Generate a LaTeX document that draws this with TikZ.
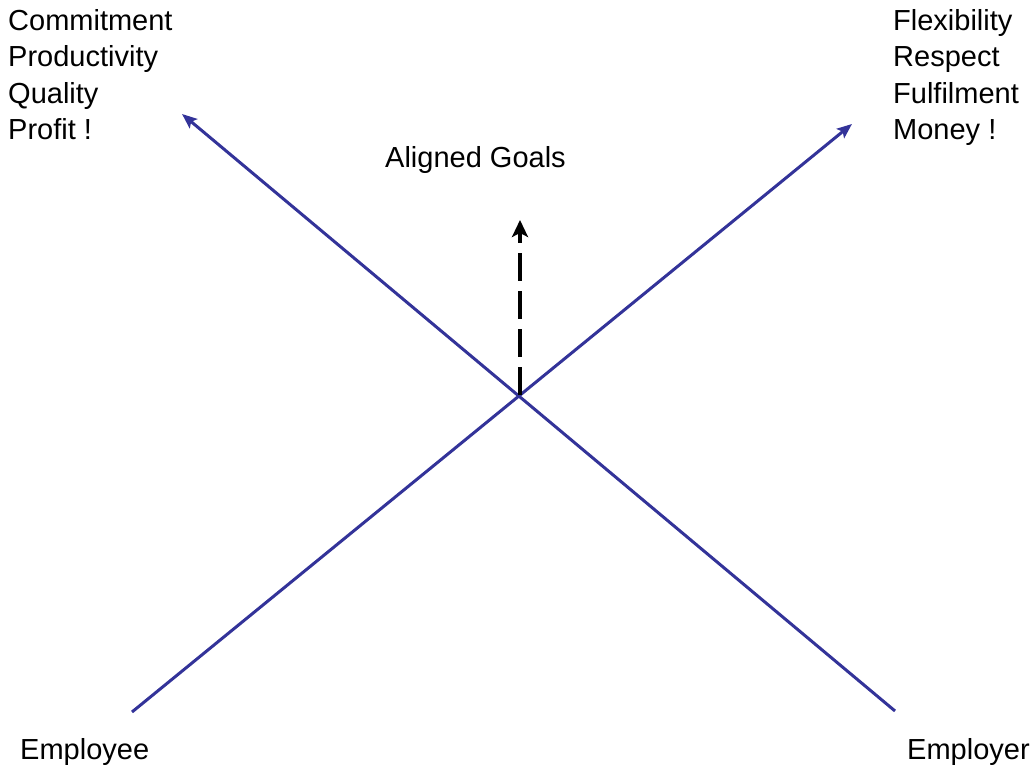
\documentclass[tikz,border=0pt]{standalone}
\usepackage{fontspec}
\setmainfont{Liberation Sans}
\usetikzlibrary{arrows.meta}
\definecolor{axisblue}{RGB}{51,51,153}
\begin{document}
\begin{tikzpicture}[x=1pt,y=1pt,
  lbl/.style={inner sep=0pt,font=\fontsize{29}{36.5}\selectfont,align=left},
  axisline/.style={draw=axisblue,line width=3pt,-{Stealth[length=15pt,width=12pt,inset=3pt]}},
  goalline/.style={draw=black,line width=3.2pt,dash pattern=on 28pt off 10pt,-{Stealth[length=17pt,width=16pt,inset=4pt]}}]
\useasboundingbox (0,0) rectangle (1033,765);
% coordinates (y = 765 - pixel row)
\coordinate (eeStart) at (132,53);
\coordinate (eeEnd) at (852,641);
\coordinate (erStart) at (895,54);
\coordinate (erEnd) at (182,651);
\coordinate (cross) at (520,370);
\coordinate (goalTip) at (520,545);
% text
\node[lbl,anchor=north west] (left) at (8,756) {Commitment\\Productivity\\Quality\\Profit !};
\node[lbl,anchor=north west] (right) at (893,756) {Flexibility\\Respect\\Fulfilment\\Money !};
\node[lbl,anchor=base west] (goals) at (385,597) {Aligned Goals};
\node[lbl,anchor=base west] (employee) at (20,5) {Employee};
\node[lbl,anchor=base west] (employer) at (907,5) {Employer};
% connectors
\draw[axisline] (eeStart) -- (eeEnd);
\draw[axisline] (erStart) -- (erEnd);
\draw[goalline] (cross) -- (goalTip);
\end{tikzpicture}
\end{document}
